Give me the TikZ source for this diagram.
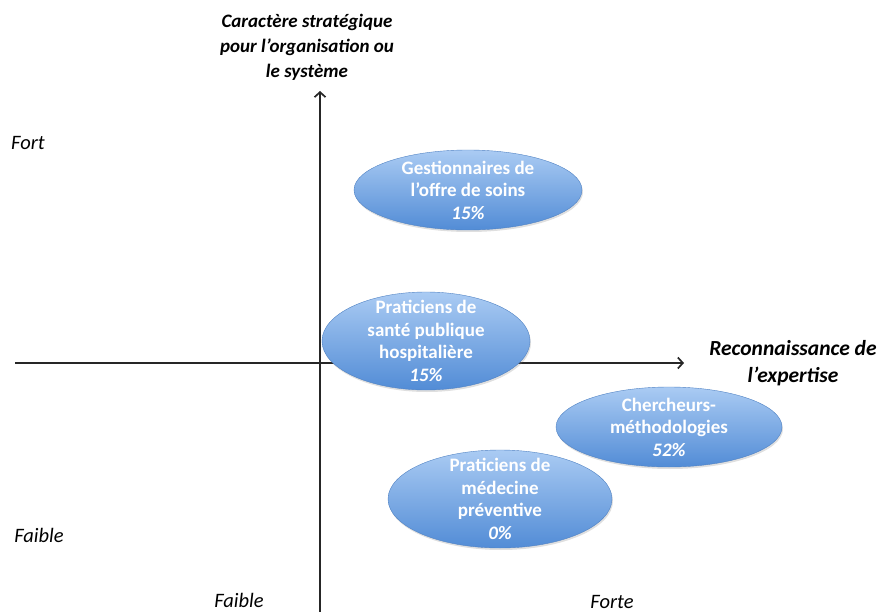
\documentclass[tikz,border=0pt]{standalone}
\usepackage{fontspec}
\setmainfont{Carlito}
\usetikzlibrary{shapes.geometric,shadows,arrows.meta}
\definecolor{blobtop}{RGB}{170,203,243}
\definecolor{blobbot}{RGB}{82,140,214}
\definecolor{blobedge}{RGB}{80,130,195}

\begin{document}
\begin{tikzpicture}[x=1pt,y=-1pt,
blobnode/.style={ellipse, draw=blobedge, thin, top color=blobtop, bottom color=blobbot, inner sep=0pt, drop shadow={opacity=0.25, shadow xshift=1pt, shadow yshift=-2pt}},
blobtext/.style={text=white, font=\fontsize{19}{22.5}\selectfont\bfseries, align=center, inner sep=0pt},
axistitle/.style={font=\fontsize{19}{25}\selectfont\bfseries\itshape, align=center},
ticklabel/.style={font=\fontsize{20.5}{24}\selectfont\itshape, inner sep=0pt},
axisline/.style={line width=1.1pt, draw=black!85, -{Straight Barb[length=5pt,width=11pt,line width=1.7pt]}},
]
\useasboundingbox (0,0) rectangle (880,612);

%Axes
\coordinate (xstart) at (15,363);
\coordinate (xend)   at (684,363);
\coordinate (ystart) at (320,612);
\coordinate (yend)   at (320,91);
\draw[axisline] (xstart) -- (xend);
\draw[axisline] (ystart) -- (yend);

%Nodes
\node[blobnode, minimum width=228, minimum height=80, label={[blobtext]center:Gestionnaires de\\l'offre de soins\\\textit{15\%}}] (gest) at (468,190) {};
\node[blobnode, minimum width=208, minimum height=98, label={[blobtext]center:Praticiens de\\santé publique\\hospitalière\\\textit{15\%}}] (sante) at (426,341) {};
\node[blobnode, minimum width=226, minimum height=80, label={[blobtext]center:Chercheurs-\\méthodologies\\\textit{52\%}}] (cherch) at (669,427) {};
\node[blobnode, minimum width=224, minimum height=98, label={[blobtext]center:Praticiens de\\médecine\\préventive\\\textit{0\%}}] (prev) at (500,499) {};

%Labels
\node[axistitle] (ytitle) at (307,47) {Caractère stratégique\\pour l'organisation ou\\le système};
\node[axistitle, font=\fontsize{21.5}{27}\selectfont\bfseries\itshape] (xtitle) at (793,363) {Reconnaissance de\\l'expertise};
\node[ticklabel] (yfort)   at (28,143)  {Fort};
\node[ticklabel] (yfaible) at (39,535)  {Faible};
\node[ticklabel] (xfaible) at (239,600) {Faible};
\node[ticklabel] (xforte)  at (612,602) {Forte};

\end{tikzpicture}
\end{document}
